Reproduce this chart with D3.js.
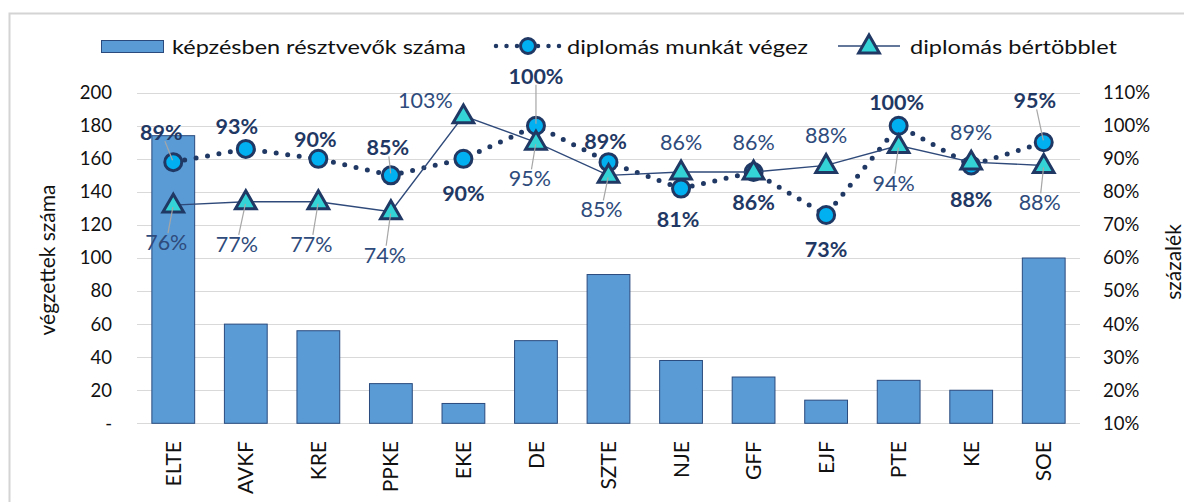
<!DOCTYPE html>
<html><head><meta charset="utf-8">
<script src="https://cdn.jsdelivr.net/npm/d3@7"></script>
<style>
html,body{margin:0;padding:0;background:#fff;}
svg{display:block;font-family:Lato,'Open Sans',sans-serif;}
</style>
</head><body>
<svg id="chart" width="1184" height="502"></svg>
<script>
// ---------- DATA ----------
const categories = ["ELTE","AVKF","KRE","PPKE","EKE","DE","SZTE","NJE","GFF","EJF","PTE","KE","SOE"];
const graduates = [174,60,56,24,12,50,90,38,28,14,26,20,100];               // képzésben résztvevők száma
const employedAsGraduate = [0.89,0.93,0.90,0.85,0.90,1.00,0.89,0.81,0.86,0.73,1.00,0.88,0.95]; // diplomás munkát végez
const wagePremium = [0.76,0.77,0.77,0.74,1.03,0.95,0.85,0.86,0.86,0.88,0.94,0.89,0.88];        // diplomás bértöbblet
const leftTicks = [0,20,40,60,80,100,120,140,160,180,200];
const rightTicks = [0.1,0.2,0.3,0.4,0.5,0.6,0.7,0.8,0.9,1.0,1.1];
const seriesNames = ["képzésben résztvevők száma","diplomás munkát végez","diplomás bértöbblet"];
const axisTitles = ["végzettek száma","százalék"];

// data-label placement (offset from the point in px, leader-line flag)
const employedLabelLayout = [[-12,-30,1],[-9,-23,0],[-3,-20,0],[-3,-28,1],[0,34,0],[0,-50,1],[-3,-21,0],[-3,30,0],[0,30,0],[0,34,0],[-2,-24,0],[0,34,0],[-9,-42,1]];
const premiumLabelLayout  = [[-7,37,1],[-9,42,1],[-7,42,1],[-6,43,1],[-38,-16,0],[-6,36,1],[-7,34,1],[0,-30,0],[0,-30,0],[0,-30,0],[-5,37,1],[0,-30,0],[-4,37,1]];

// ---------- STYLE ----------
const NAVY = "#1F3864", LABEL2 = "#2E4B7C", BAR = "#5B9BD5", BAR_EDGE = "#2A4A7E",
      CIRCLE = "#00B0F0", TRI = "#33D3D6", GRID = "#D9D9D9", TXT = "#111";

const svg = d3.select("#chart");
svg.append("rect").attr("width",1184).attr("height",502).attr("fill","#fff");
svg.append("rect").attr("x",9.5).attr("y",13.5).attr("width",1200).attr("height",520)
   .attr("fill","none").attr("stroke","#D4D4D4").attr("stroke-width",2);

const plot = {left:137, right:1080, top:92.7, bottom:423.3};

const x = d3.scaleBand().domain(categories).range([plot.left, plot.right]).paddingInner(0.41).paddingOuter(0.205);
const yL = d3.scaleLinear().domain([0,200]).range([plot.bottom, plot.top]);
const yR = d3.scaleLinear().domain([0.1,1.1]).range([plot.bottom, plot.top]);
const cx = c => x(c) + x.bandwidth()/2;

// gridlines
svg.append("g").selectAll("line").data(leftTicks).join("line")
  .attr("x1",plot.left).attr("x2",plot.right)
  .attr("y1",d=>Math.round(yL(d))+0.5).attr("y2",d=>Math.round(yL(d))+0.5)
  .attr("stroke",GRID).attr("stroke-width",1.2);

// left axis
const axL = d3.axisLeft(yL).tickValues(leftTicks).tickSize(0).tickPadding(0)
  .tickFormat(d => d===0 ? "-" : d3.format("d")(d));
const gL = svg.append("g").attr("transform","translate(112,0)").call(axL);
gL.select(".domain").remove();
gL.selectAll("text").attr("font-size",18.5).attr("fill",TXT).attr("font-family","Lato");

// right axis
const axR = d3.axisRight(yR).tickValues(rightTicks).tickSize(0).tickPadding(0)
  .tickFormat(d3.format(".0%"));
const gR = svg.append("g").attr("transform","translate(1103,0)").call(axR);
gR.select(".domain").remove();
gR.selectAll("text").attr("font-size",18.5).attr("fill",TXT).attr("font-family","Lato");

// x axis labels (rotated)
const axB = d3.axisBottom(x).tickSize(0).tickPadding(0);
const gB = svg.append("g").attr("transform","translate(0,441)").call(axB);
gB.select(".domain").remove();
gB.selectAll("text").attr("font-size",21).attr("fill",TXT).attr("font-family","Lato")
  .attr("transform","rotate(-90)").attr("text-anchor","end").attr("dy","0.36em").attr("x",0).attr("y",0);

// axis titles
svg.append("text").attr("transform",`translate(46,${(plot.top+plot.bottom)/2+2}) rotate(-90)`)
  .attr("text-anchor","middle").attr("dominant-baseline","central").attr("font-size",21).attr("fill",TXT)
  .text(axisTitles[0]);
svg.append("text").attr("transform",`translate(1172,${(plot.top+plot.bottom)/2+4}) rotate(-90)`)
  .attr("text-anchor","middle").attr("dominant-baseline","central").attr("font-size",21).attr("fill",TXT)
  .text(axisTitles[1]);

// bars
svg.append("g").selectAll("rect").data(categories).join("rect")
  .attr("x",c=>x(c)).attr("width",x.bandwidth())
  .attr("y",(c,i)=>yL(graduates[i])).attr("height",(c,i)=>plot.bottom - yL(graduates[i]))
  .attr("fill",BAR).attr("stroke",BAR_EDGE).attr("stroke-width",1);

// dotted line series
const lineE = d3.line().x((d,i)=>cx(categories[i])).y(d=>yR(d));
svg.append("path").attr("d",lineE(employedAsGraduate)).attr("fill","none")
  .attr("stroke",NAVY).attr("stroke-width",5).attr("stroke-linecap","round").attr("stroke-dasharray","0,11.6");
svg.append("g").selectAll("circle").data(employedAsGraduate).join("circle")
  .attr("cx",(d,i)=>cx(categories[i])).attr("cy",d=>yR(d)).attr("r",8.5)
  .attr("fill",CIRCLE).attr("stroke",NAVY).attr("stroke-width",3);

// thin line series with triangles
svg.append("path").attr("d",lineE(wagePremium)).attr("fill","none")
  .attr("stroke","#2F4A7A").attr("stroke-width",1.4);
const tri = d3.symbol().type(d3.symbolTriangle).size(185);
svg.append("g").selectAll("path").data(wagePremium).join("path")
  .attr("d",tri).attr("transform",(d,i)=>`translate(${cx(categories[i])},${yR(d)+1})`)
  .attr("fill",TRI).attr("stroke",NAVY).attr("stroke-width",3).attr("stroke-linejoin","miter");

// data labels + leader lines
function labels(values, layout, bold, color){
  const g = svg.append("g");
  values.forEach((v,i)=>{
    const px = cx(categories[i]), py = yR(v);
    const [dx,dy,lead] = layout[i];
    const lx = px+dx, ly = py+dy;
    if(lead){
      const ang = Math.atan2(py-ly, px-lx);
      const hw = 23, hh = 9;
      const t = Math.min(Math.abs(hw/ (Math.cos(ang)||1e-6)), Math.abs(hh/(Math.sin(ang)||1e-6)));
      const sx = lx + Math.cos(ang)*t, sy = ly + Math.sin(ang)*t;
      const ex = px - Math.cos(ang)*2, ey = py - Math.sin(ang)*2;
      g.append("line").attr("x1",sx).attr("y1",sy).attr("x2",ex).attr("y2",ey)
        .attr("stroke","#A6A6A6").attr("stroke-width",1.2);
    }
    g.append("text").attr("x",lx).attr("y",ly).attr("text-anchor","middle").attr("dominant-baseline","central")
      .attr("font-size",21.5).attr("font-weight",bold?700:400).attr("fill",color)
      .text(d3.format(".0%")(v));
  });
}
labels(employedAsGraduate, employedLabelLayout, true, NAVY);
labels(wagePremium, premiumLabelLayout, false, LABEL2);

// legend
const lg = svg.append("g");
const ly0 = 46;
lg.append("rect").attr("x",101.5).attr("y",40.5).attr("width",62).attr("height",12)
  .attr("fill",BAR).attr("stroke",BAR_EDGE).attr("stroke-width",1);
lg.append("text").attr("x",172).attr("y",ly0).attr("dominant-baseline","central").attr("font-size",20)
  .attr("fill",TXT).attr("textLength",294).attr("lengthAdjust","spacingAndGlyphs").text(seriesNames[0]);
lg.append("line").attr("x1",496).attr("x2",560).attr("y1",ly0).attr("y2",ly0)
  .attr("stroke",NAVY).attr("stroke-width",4.5).attr("stroke-linecap","round").attr("stroke-dasharray","0,10.5");
lg.append("circle").attr("cx",528).attr("cy",ly0).attr("r",7.5).attr("fill",CIRCLE).attr("stroke",NAVY).attr("stroke-width",3);
lg.append("text").attr("x",567).attr("y",ly0).attr("dominant-baseline","central").attr("font-size",20)
  .attr("fill",TXT).attr("textLength",241).attr("lengthAdjust","spacingAndGlyphs").text(seriesNames[1]);
lg.append("line").attr("x1",838).attr("x2",900).attr("y1",ly0).attr("y2",ly0).attr("stroke","#2F4A7A").attr("stroke-width",1.4);
lg.append("path").attr("d",tri).attr("transform",`translate(869,${ly0+1})`).attr("fill",TRI).attr("stroke",NAVY).attr("stroke-width",3);
lg.append("text").attr("x",910).attr("y",ly0).attr("dominant-baseline","central").attr("font-size",20)
  .attr("fill",TXT).attr("textLength",207).attr("lengthAdjust","spacingAndGlyphs").text(seriesNames[2]);
</script>
</body></html>
